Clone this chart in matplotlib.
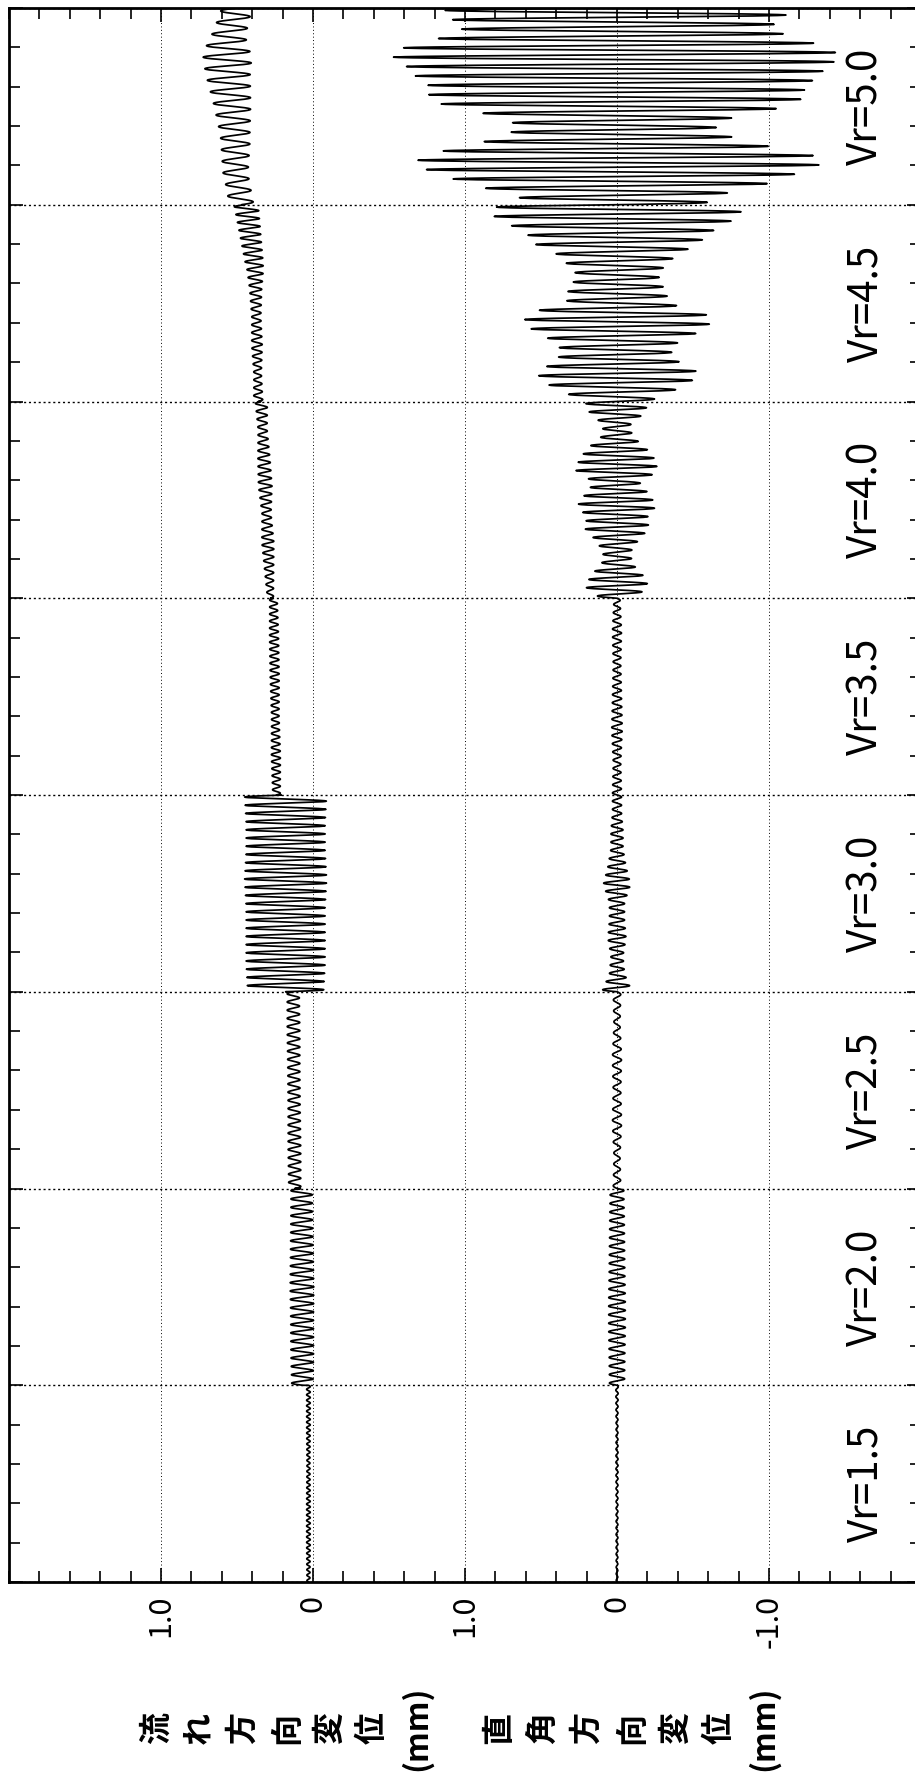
import numpy as np
import matplotlib
matplotlib.use("Agg")
import matplotlib.pyplot as plt
from matplotlib.ticker import MultipleLocator

plt.rcParams['font.family'] = ['Noto Sans CJK JP', 'DejaVu Sans']

# ---------------- data ----------------
vr_labels = ['Vr=1.5', 'Vr=2.0', 'Vr=2.5', 'Vr=3.0', 'Vr=3.5', 'Vr=4.0', 'Vr=4.5', 'Vr=5.0']
tick_values = [1.0, 0.0, -1.0, -2.0, -3.0]
tick_labels = ['1.0', '0', '1.0', '0', '-1.0']
flow_label_chars = ['流', 'れ', '方', '向', '変', '位', '(mm)']
cross_label_chars = ['直', '角', '方', '向', '変', '位', '(mm)']

# oscillation cycles per Vr segment (read from the record)
flow_cycles = [36, 23.5, 24, 24, 28, 25, 25, 17]
cross_cycles = [30, 23, 18, 24, 24, 23.5, 21, 21]

# flow-direction displacement: half-amplitude envelope (mm), time order in each segment
flow_amp_15 = [0.010, 0.012, 0.012, 0.010, 0.012, 0.012]
flow_amp_20 = [0.070, 0.075, 0.075, 0.078, 0.075, 0.072, 0.070]
flow_amp_25 = [0.040, 0.042, 0.040, 0.040, 0.042, 0.040]
flow_amp_30 = [0.25, 0.26, 0.26, 0.26, 0.27, 0.26, 0.26, 0.27]
flow_amp_35 = [0.025, 0.030, 0.025, 0.030, 0.030, 0.025]
flow_amp_40 = [0.020, 0.030, 0.040, 0.030, 0.045, 0.040, 0.030, 0.040]
flow_amp_45 = [0.030, 0.025, 0.035, 0.030, 0.040, 0.060, 0.070, 0.080]
flow_amp_50 = [0.08, 0.08, 0.09, 0.10, 0.12, 0.14, 0.16, 0.11, 0.10]

# flow-direction mean position (mm)
flow_mean_15 = [0.03, 0.03]
flow_mean_20 = [0.07, 0.075]
flow_mean_25 = [0.12, 0.13]
flow_mean_30 = [0.18, 0.18]
flow_mean_35 = [0.24, 0.26]
flow_mean_40 = [0.28, 0.31, 0.34]
flow_mean_45 = [0.36, 0.37, 0.38, 0.44]
flow_mean_50 = [0.47, 0.51, 0.51, 0.53, 0.56, 0.565, 0.50]

# cross-flow displacement: half-amplitude envelope (mm)
cross_amp_15 = [0.005, 0.006, 0.006, 0.007, 0.006, 0.008]
cross_amp_20 = [0.050, 0.052, 0.055, 0.055, 0.052, 0.050, 0.048, 0.045]
cross_amp_25 = [0.025, 0.020, 0.030, 0.025, 0.030, 0.020, 0.025]
cross_amp_30 = [0.10, 0.05, 0.04, 0.06, 0.05, 0.05, 0.09, 0.06, 0.04, 0.04, 0.03, 0.03]
cross_amp_35 = [0.030, 0.025, 0.035, 0.030, 0.025, 0.030, 0.020]
cross_amp_40 = [0.11, 0.21, 0.17, 0.10, 0.09, 0.14, 0.21, 0.20, 0.26, 0.21, 0.15,
                0.27, 0.25, 0.19, 0.10, 0.09, 0.18, 0.21]
cross_amp_45 = [0.21, 0.36, 0.49, 0.53, 0.41, 0.36, 0.40, 0.53, 0.62, 0.58, 0.33,
                0.33, 0.29, 0.27, 0.33, 0.40, 0.54, 0.59, 0.71, 0.83, 0.78]
cross_amp_50 = [0.57, 0.67, 0.96, 1.15, 1.33, 1.29, 0.98, 0.73, 0.64, 0.78, 1.13,
                1.24, 1.23, 1.32, 1.38, 1.47, 1.40, 1.15, 1.00, 1.10, 1.14]
cross_mean = [0.0, 0.0, 0.0, 0.0, 0.0, 0.0, 0.0, 0.0]

flow_amps = [flow_amp_15, flow_amp_20, flow_amp_25, flow_amp_30,
             flow_amp_35, flow_amp_40, flow_amp_45, flow_amp_50]
flow_means = [flow_mean_15, flow_mean_20, flow_mean_25, flow_mean_30,
              flow_mean_35, flow_mean_40, flow_mean_45, flow_mean_50]
cross_amps = [cross_amp_15, cross_amp_20, cross_amp_25, cross_amp_30,
              cross_amp_35, cross_amp_40, cross_amp_45, cross_amp_50]
cross_means = [[m, m] for m in cross_mean]

CROSS_SHIFT = -2.0  # cross trace drawn 2 mm to the right of the flow trace


def build_trace(amps, means, cycles, pts_per_cycle=60):
    ts, vs = [], []
    phase0 = 0.0
    for i, (a, m, c) in enumerate(zip(amps, means, cycles)):
        n = int(c * pts_per_cycle)
        lt = np.linspace(0, 1, n, endpoint=False)
        amp = np.interp(lt, np.linspace(0, 1, len(a)), a)
        mean = np.interp(lt, np.linspace(0, 1, len(m)), m)
        ph = phase0 + 2 * np.pi * c * lt
        ts.append(i + lt)
        vs.append(mean + amp * np.sin(ph))
        phase0 += 2 * np.pi * c
    return np.concatenate(ts), np.concatenate(vs)


t_flow, v_flow = build_trace(flow_amps, flow_means, flow_cycles)
t_cross, v_cross = build_trace(cross_amps, cross_means, cross_cycles)

# ---------------- figure ----------------
W, H = 915, 1773
fig = plt.figure(figsize=(W / 100, H / 100), dpi=100)
left_px, right_px, top_px, bottom_px = 9, 921, 8, 1582
ax = fig.add_axes([left_px / W, 1 - bottom_px / H,
                   (right_px - left_px) / W, (bottom_px - top_px) / H])

ax.plot(v_flow, t_flow, color='black', lw=1.25)
ax.plot(v_cross + CROSS_SHIFT, t_cross, color='black', lw=1.25)

ax.set_xlim(2.0, -4.0)
ax.set_ylim(0, len(vr_labels))

ax.set_xticks(tick_values)
ax.set_xticklabels(tick_labels, rotation=90, fontsize=22)
ax.xaxis.set_minor_locator(MultipleLocator(0.2))
ax.set_yticks(np.arange(0, len(vr_labels) + 1))
ax.set_yticklabels([])
ax.yaxis.set_minor_locator(MultipleLocator(0.2))

ax.tick_params(axis='both', which='both', direction='in', top=True, right=True,
               color='black', width=1.2)
ax.tick_params(axis='both', which='major', length=10, pad=9)
ax.tick_params(axis='both', which='minor', length=8)

ax.xaxis.grid(True, which='major', linestyle=(0, (1, 2.5)), color='black', lw=0.7)
ax.yaxis.grid(True, which='major', linestyle=(0, (1.5, 2)), color='black', lw=1.0)
ax.set_axisbelow(True)

for s in ax.spines.values():
    s.set_linewidth(2.0)
    s.set_color('black')

for i, lab in enumerate(vr_labels):
    ax.text(-3.64, i + 0.5, lab, rotation=90, ha='center', va='center',
            fontsize=29, color='black')

flow_char_x = [157, 199, 243, 287, 330, 373, 417]
cross_char_x = [499, 543, 587, 632, 676, 720, 764]
for ch, xp in zip(flow_label_chars, flow_char_x):
    fig.text(xp / W, 1 - 1728 / H, ch, rotation=90, ha='center', va='center',
             fontsize=23, fontweight='bold')
for ch, xp in zip(cross_label_chars, cross_char_x):
    fig.text(xp / W, 1 - 1728 / H, ch, rotation=90, ha='center', va='center',
             fontsize=23, fontweight='bold')

fig.savefig('out.png', dpi=100, facecolor='white')
